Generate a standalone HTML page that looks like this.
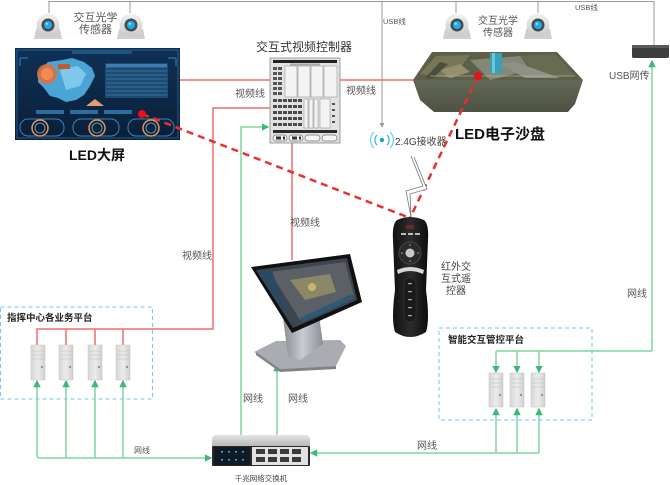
<!DOCTYPE html>
<html><head><meta charset="utf-8"><style>
html,body{margin:0;padding:0;background:#fff;}
svg{display:block;}
text{font-family:"Liberation Sans","Noto Sans CJK SC",sans-serif;}
</style></head><body>
<svg width="670" height="485" viewBox="0 0 670 485" xmlns="http://www.w3.org/2000/svg">
<defs>
<marker id="ag" viewBox="0 0 6 6" refX="5" refY="3" markerWidth="5" markerHeight="5" orient="auto"><path d="M0,0 L6,3 L0,6 z" fill="#3cb878"/></marker>
<marker id="ay" viewBox="0 0 6 6" refX="5" refY="3" markerWidth="5" markerHeight="5" orient="auto"><path d="M0,0 L6,3 L0,6 z" fill="#999"/></marker>
<linearGradient id="srv" x1="0" y1="0" x2="1" y2="0"><stop offset="0" stop-color="#d6d6d6"/><stop offset="0.5" stop-color="#ececec"/><stop offset="1" stop-color="#cfcfcf"/></linearGradient>
<linearGradient id="side" x1="0" y1="0" x2="0" y2="1"><stop offset="0" stop-color="#646857"/><stop offset="1" stop-color="#4e5244"/></linearGradient>
<linearGradient id="led" x1="0" y1="0" x2="0" y2="1"><stop offset="0" stop-color="#0f3156"/><stop offset="1" stop-color="#0a1f38"/></linearGradient>
<linearGradient id="dome" x1="0" y1="0" x2="0" y2="1"><stop offset="0" stop-color="#f2f2f2"/><stop offset="1" stop-color="#c9c9c9"/></linearGradient>
<linearGradient id="remote" x1="0" y1="0" x2="1" y2="0"><stop offset="0" stop-color="#111"/><stop offset="0.5" stop-color="#2c2c2c"/><stop offset="1" stop-color="#0c0c0c"/></linearGradient>
<linearGradient id="sw" x1="0" y1="0" x2="0" y2="1"><stop offset="0" stop-color="#e4e4e4"/><stop offset="1" stop-color="#b8b8b8"/></linearGradient>
<linearGradient id="stand" x1="0" y1="0" x2="1" y2="0"><stop offset="0" stop-color="#8a8d92"/><stop offset="0.5" stop-color="#c9ccd0"/><stop offset="1" stop-color="#8a8d92"/></linearGradient>
</defs>

<!-- gray USB lines -->
<g stroke="#9a9a9a" stroke-width="1" fill="none">
<path d="M49,13 V1.5 H654 V45"/>
<path d="M130,13 V1.5"/>
<path d="M456,13 V1.5"/>
<path d="M538,13 V1.5"/>
<path d="M382,1.5 V127" marker-end="url(#ay)"/>
</g>

<!-- red solid lines -->
<g stroke="#ec6f6f" stroke-width="1.5" fill="none">
<path d="M180,80 H270"/>
<path d="M340,80 H414"/>
<path d="M270,108 H213 V329 H37 V345"/>
<path d="M66,329 V345 M95,329 V345 M123,329 V345"/>
<path d="M292,143 V260"/>
</g>

<!-- green lines -->
<g stroke="#7fd6a4" stroke-width="1.5" fill="none">
<path d="M241,435 V127 H268" marker-end="url(#ag)"/>
<path d="M277,435 V365" marker-end="url(#ag)"/>
<path d="M40,458 H211" marker-end="url(#ag)"/>
<path d="M37,455 V381" marker-end="url(#ag)"/>
<path d="M37,455 Q37,458 40,458"/>
<path d="M66,458 V381" marker-end="url(#ag)"/>
<path d="M95,458 V381" marker-end="url(#ag)"/>
<path d="M123,458 V381" marker-end="url(#ag)"/>
<path d="M496,453 H311" marker-end="url(#ag)"/>
<path d="M496,453 H539"/>
<path d="M496,453 V409" marker-end="url(#ag)"/>
<path d="M517,453 V409" marker-end="url(#ag)"/>
<path d="M539,453 V409" marker-end="url(#ag)"/>
<path d="M652,351 V61" marker-end="url(#ag)"/>
<path d="M496,351 H652"/>
<path d="M496,351 V372" marker-end="url(#ag)"/>
<path d="M517,351 V372" marker-end="url(#ag)"/>
<path d="M539,351 V372" marker-end="url(#ag)"/>
</g>

<!-- dashed platform boxes -->
<rect x="0.5" y="307" width="152" height="92" fill="none" stroke="#6fcbea" stroke-width="1" stroke-dasharray="4,3"/>
<rect x="439" y="328" width="153" height="92" fill="none" stroke="#6fcbea" stroke-width="1" stroke-dasharray="4,3"/>
<text x="7" y="321" font-size="9.5" font-weight="bold" fill="#222">指挥中心各业务平台</text>
<text x="448" y="343" font-size="9.5" font-weight="bold" fill="#222">智能交互管控平台</text>

<!-- servers -->
<g id="servers">
<g transform="translate(31,345)"><rect width="14" height="35" fill="url(#srv)" stroke="#c4c4c4" stroke-width="0.5"/><path d="M1,6 H13 M1,10 H13 M1,14 H13" stroke="#bdbdbd" stroke-width="0.6"/><circle cx="11" cy="22" r="1" fill="#3a8fc0"/></g>
<g transform="translate(59,345)"><rect width="14" height="35" fill="url(#srv)" stroke="#c4c4c4" stroke-width="0.5"/><path d="M1,6 H13 M1,10 H13 M1,14 H13" stroke="#bdbdbd" stroke-width="0.6"/><circle cx="11" cy="22" r="1" fill="#3a8fc0"/></g>
<g transform="translate(88,345)"><rect width="14" height="35" fill="url(#srv)" stroke="#c4c4c4" stroke-width="0.5"/><path d="M1,6 H13 M1,10 H13 M1,14 H13" stroke="#bdbdbd" stroke-width="0.6"/><circle cx="11" cy="22" r="1" fill="#3a8fc0"/></g>
<g transform="translate(116,345)"><rect width="14" height="35" fill="url(#srv)" stroke="#c4c4c4" stroke-width="0.5"/><path d="M1,6 H13 M1,10 H13 M1,14 H13" stroke="#bdbdbd" stroke-width="0.6"/><circle cx="11" cy="22" r="1" fill="#3a8fc0"/></g>
<g transform="translate(489,373)"><rect width="14" height="34" fill="url(#srv)" stroke="#c4c4c4" stroke-width="0.5"/><path d="M1,6 H13 M1,10 H13 M1,14 H13" stroke="#bdbdbd" stroke-width="0.6"/><circle cx="11" cy="22" r="1" fill="#3a8fc0"/></g>
<g transform="translate(510,373)"><rect width="14" height="34" fill="url(#srv)" stroke="#c4c4c4" stroke-width="0.5"/><path d="M1,6 H13 M1,10 H13 M1,14 H13" stroke="#bdbdbd" stroke-width="0.6"/><circle cx="11" cy="22" r="1" fill="#3a8fc0"/></g>
<g transform="translate(531,373)"><rect width="14" height="34" fill="url(#srv)" stroke="#c4c4c4" stroke-width="0.5"/><path d="M1,6 H13 M1,10 H13 M1,14 H13" stroke="#bdbdbd" stroke-width="0.6"/><circle cx="11" cy="22" r="1" fill="#3a8fc0"/></g>
</g>

<!-- sensors -->
<g>
<g transform="translate(48,0)"><path d="M-14,39 L-12,29 H12 L14,39 Z" fill="#cfcfcf"/><circle cx="0" cy="25" r="11.5" fill="url(#dome)"/><circle cx="0" cy="25" r="6.5" fill="#4a4a4a"/><circle cx="0" cy="25" r="4" fill="#18aef0"/><circle cx="-1.2" cy="23.8" r="1.2" fill="#9fe4ff"/></g>
<g transform="translate(131,0)"><path d="M-14,39 L-12,29 H12 L14,39 Z" fill="#cfcfcf"/><circle cx="0" cy="25" r="11.5" fill="url(#dome)"/><circle cx="0" cy="25" r="6.5" fill="#4a4a4a"/><circle cx="0" cy="25" r="4" fill="#18aef0"/><circle cx="-1.2" cy="23.8" r="1.2" fill="#9fe4ff"/></g>
<g transform="translate(457,0)"><path d="M-14,39 L-12,29 H12 L14,39 Z" fill="#cfcfcf"/><circle cx="0" cy="25" r="11.5" fill="url(#dome)"/><circle cx="0" cy="25" r="6.5" fill="#4a4a4a"/><circle cx="0" cy="25" r="4" fill="#18aef0"/><circle cx="-1.2" cy="23.8" r="1.2" fill="#9fe4ff"/></g>
<g transform="translate(538,0)"><path d="M-14,39 L-12,29 H12 L14,39 Z" fill="#cfcfcf"/><circle cx="0" cy="25" r="11.5" fill="url(#dome)"/><circle cx="0" cy="25" r="6.5" fill="#4a4a4a"/><circle cx="0" cy="25" r="4" fill="#18aef0"/><circle cx="-1.2" cy="23.8" r="1.2" fill="#9fe4ff"/></g>
</g>
<text x="95.5" y="21" font-size="11" fill="#555" text-anchor="middle">交互光学</text>
<text x="95.5" y="33" font-size="11" fill="#555" text-anchor="middle">传感器</text>
<text x="498" y="24" font-size="10" fill="#555" text-anchor="middle">交互光学</text>
<text x="498" y="36" font-size="10" fill="#555" text-anchor="middle">传感器</text>
<text x="383" y="24" font-size="7.5" fill="#555">USB线</text>
<text x="575" y="10" font-size="7.5" fill="#555">USB线</text>

<!-- LED screen -->
<g>
<rect x="15" y="48" width="165" height="92" fill="url(#led)"/>
<rect x="17" y="50" width="161" height="88" fill="none" stroke="#2a6a9a" stroke-width="0.8"/>
<rect x="72" y="50" width="60" height="4" fill="#1e5480"/>
<path d="M38,72 L48,62 L62,60 L72,58 L84,62 L92,68 L95,76 L90,86 L84,95 L76,100 L66,102 L58,98 L50,96 L44,88 L38,82 Z" fill="#4aa4d6"/>
<path d="M60,70 L78,66 L86,74 L80,86 L66,90 Z" fill="#7ec8ec"/>
<circle cx="47" cy="74" r="10" fill="#e0703a" opacity="0.85"/>
<circle cx="47" cy="74" r="6" fill="#f38b50"/>
<rect x="58" y="64" width="12" height="5" fill="#c25a30"/>
<path d="M86,106 L95,99 L104,106 Z" fill="#e89a70"/>
<rect x="105" y="63" width="63" height="35" fill="#1d4c72"/>
<g stroke="#5a90b8" stroke-width="0.5"><path d="M106,67 H167 M106,71 H167 M106,75 H167 M106,79 H167 M106,83 H167 M106,87 H167 M106,91 H167 M106,95 H167"/></g>
<rect x="106" y="64" width="61" height="3" fill="#3c7cb0"/>
<g fill="#2b6ea0"><rect x="36" y="110" width="28" height="4"/><rect x="70" y="110" width="28" height="4"/><rect x="104" y="110" width="28" height="4"/></g>
<g fill="none" stroke="#3e82b8" stroke-width="1">
<rect x="20" y="119" width="44" height="17" rx="8"/><rect x="73" y="119" width="46" height="17" rx="8"/><rect x="128" y="119" width="46" height="17" rx="8"/>
</g>
<g fill="#0c2238" stroke="#e8925c" stroke-width="1.5">
<circle cx="40" cy="128" r="8"/><circle cx="97" cy="128" r="8"/><circle cx="151" cy="128" r="8"/>
</g>
<g fill="none" stroke="#6ab8e8" stroke-width="0.8">
<circle cx="40" cy="128" r="5"/><circle cx="97" cy="128" r="5"/><circle cx="151" cy="128" r="5"/>
</g>
<path d="M20,58 H28 M168,58 H176 M20,58 V66 M176,58 V66" stroke="#3e82b8" stroke-width="1"/>
</g>
<text x="97" y="160" font-size="14" font-weight="bold" fill="#111" text-anchor="middle">LED大屏</text>

<!-- video controller -->
<text x="304" y="51" font-size="12" fill="#333" text-anchor="middle">交互式视频控制器</text>
<g>
<rect x="270" y="58" width="70" height="85" fill="#e2e2e2" stroke="#8a8a8a" stroke-width="0.8"/>
<rect x="273" y="60" width="64" height="3" fill="#222"/>
<rect x="290" y="63.5" width="30" height="2" fill="#aaa"/>
<g fill="#555"><rect x="273" y="67" width="4" height="3"/><rect x="278" y="67" width="4" height="3"/><rect x="273" y="72" width="4" height="3"/><rect x="278" y="72" width="4" height="3"/><rect x="273" y="77" width="4" height="3"/><rect x="278" y="77" width="4" height="3"/><rect x="273" y="82" width="4" height="3"/><rect x="278" y="82" width="4" height="3"/><rect x="273" y="87" width="4" height="3"/><rect x="278" y="87" width="4" height="3"/><rect x="273" y="92" width="4" height="3"/><rect x="278" y="92" width="4" height="3"/></g>
<g fill="#f4f4f4" stroke="#999" stroke-width="0.6"><rect x="285" y="66" width="12" height="31"/><rect x="298" y="66" width="12" height="31"/><rect x="311" y="66" width="12" height="31"/><rect x="324" y="66" width="13" height="31"/></g>
<g fill="#4a4a4a">
<rect x="273" y="99" width="4" height="3"/><rect x="278" y="99" width="4" height="3"/><rect x="283" y="99" width="4" height="3"/><rect x="288" y="99" width="4" height="3"/><rect x="293" y="99" width="4" height="3"/><rect x="298" y="99" width="4" height="3"/>
<rect x="273" y="105" width="4" height="3"/><rect x="278" y="105" width="4" height="3"/><rect x="283" y="105" width="4" height="3"/><rect x="288" y="105" width="4" height="3"/><rect x="293" y="105" width="4" height="3"/><rect x="298" y="105" width="4" height="3"/>
<rect x="273" y="111" width="4" height="3"/><rect x="278" y="111" width="4" height="3"/><rect x="283" y="111" width="4" height="3"/><rect x="288" y="111" width="4" height="3"/><rect x="293" y="111" width="4" height="3"/><rect x="298" y="111" width="4" height="3"/>
<rect x="273" y="117" width="4" height="3"/><rect x="278" y="117" width="4" height="3"/><rect x="283" y="117" width="4" height="3"/><rect x="288" y="117" width="4" height="3"/><rect x="293" y="117" width="4" height="3"/><rect x="298" y="117" width="4" height="3"/>
<rect x="273" y="123" width="4" height="3"/><rect x="278" y="123" width="4" height="3"/><rect x="283" y="123" width="4" height="3"/><rect x="288" y="123" width="4" height="3"/><rect x="293" y="123" width="4" height="3"/><rect x="298" y="123" width="4" height="3"/>
</g>
<g fill="#f4f4f4" stroke="#999" stroke-width="0.6"><rect x="304" y="99" width="4" height="29"/><rect x="309" y="99" width="4" height="29"/><rect x="314" y="99" width="4" height="29"/><rect x="320" y="99" width="10" height="29"/></g>
<g fill="#555"><rect x="332" y="103" width="3" height="2"/><rect x="332" y="109" width="3" height="2"/><rect x="332" y="115" width="3" height="2"/><rect x="332" y="121" width="3" height="2"/></g>
<rect x="273" y="130" width="64" height="3" fill="#2a2a2a"/>
<g fill="#f6f6f6" stroke="#777" stroke-width="0.7"><rect x="273" y="135" width="14" height="6" rx="3"/><rect x="289" y="135" width="14" height="6" rx="3"/><rect x="305" y="135" width="15" height="6" rx="3"/><rect x="322" y="135" width="15" height="6" rx="3"/></g>
<g fill="#333"><rect x="276" y="136.5" width="5" height="3"/><rect x="292" y="136.5" width="5" height="3"/><rect x="283" y="136.5" width="2" height="3"/><rect x="299" y="136.5" width="2" height="3"/></g>
</g>
<text x="235" y="97" font-size="10" fill="#555">视频线</text>
<text x="346" y="94" font-size="10" fill="#555">视频线</text>
<text x="182" y="259" font-size="10" fill="#555">视频线</text>
<text x="290" y="226" font-size="10" fill="#555">视频线</text>

<!-- LED sand table -->
<g>
<path d="M413,80 L583,80 L575,104 L568,112 L434,112 L420,100 Z" fill="url(#side)"/>
<path d="M413,80 L432,52 L557,52 L583,80 Z" fill="#5c6048"/>
<g opacity="0.85">
<path d="M420,74 L436,56 L470,55 L452,78 Z" fill="#7c7a5a"/>
<path d="M470,60 L520,56 L530,70 L490,80 Z" fill="#8c8f80"/>
<path d="M520,56 L555,54 L575,76 L540,78 Z" fill="#6c6e52"/>
<path d="M440,70 L460,64 L470,72 L450,78 Z" fill="#a09878"/>
<path d="M500,64 L515,62 L560,78 L525,78 Z" fill="#9a9a90"/>
<path d="M425,78 L440,62 L448,64 L432,79 Z" fill="#4a4c3a"/>
</g>
<path d="M430,76 L575,76" stroke="#b8bcb0" stroke-width="1" opacity="0.6"/>
<rect x="490" y="53" width="12" height="20" fill="#3aa0b8"/>
<rect x="492" y="53" width="3" height="20" fill="#6cc8d8"/>
</g>
<text x="455" y="139" font-size="15" font-weight="bold" fill="#111">LED电子沙盘</text>

<!-- USB box -->
<rect x="632" y="45" width="37" height="13" rx="1.5" fill="#3e3e3e"/>
<rect x="632" y="45" width="37" height="3" fill="#5a5a5a"/>
<text x="609" y="79" font-size="10" fill="#555">USB网传</text>

<!-- 2.4G receiver -->
<g fill="none" stroke="#2ab0e8" stroke-width="1.2">
<circle cx="382" cy="140" r="2.2" fill="#1a9ee0" stroke="none"/>
<path d="M377,135 A7,7 0 0 0 377,145"/>
<path d="M374,132 A11,11 0 0 0 374,148" opacity="0.7"/>
<path d="M387,135 A7,7 0 0 1 387,145"/>
<path d="M390,132 A11,11 0 0 1 390,148" opacity="0.7"/>
</g>
<text x="395" y="145" font-size="10" fill="#444">2.4G接收器</text>

<!-- red dashed IR beams -->
<g stroke="#e8302f" stroke-width="2.5" fill="none" stroke-dasharray="7,5">
<path d="M142,114 L410,218"/>
<path d="M478,76 L410,218"/>
</g>
<circle cx="142" cy="114" r="4" fill="#e8101a"/>
<circle cx="478" cy="76" r="4" fill="#e8101a"/>

<!-- lightning -->
<path d="M411,156 L423,186 L406,191 L411,217 L410,194 L427,189 L414,157" fill="#fff" stroke="#777" stroke-width="0.8"/>

<!-- remote -->
<g>
<path d="M397,220 Q410,214 424,220 Q429,224 428,240 L426,290 Q430,320 426,332 Q410,342 395,332 Q391,320 395,290 L393,240 Q392,224 397,220 Z" fill="url(#remote)"/>
<rect x="406" y="225" width="8" height="4" rx="1" fill="#6a2a2a"/>
<g fill="#bbb"><rect x="401" y="233" width="5" height="2"/><rect x="408" y="233" width="5" height="2"/><rect x="415" y="233" width="5" height="2"/></g>
<circle cx="410" cy="253" r="11" fill="#2a2a2a" stroke="#444" stroke-width="1"/>
<circle cx="410" cy="253" r="4.5" fill="#c8c8c8"/>
<g fill="#aaa"><circle cx="410" cy="245" r="0.8"/><circle cx="410" cy="261" r="0.8"/><circle cx="402" cy="253" r="0.8"/><circle cx="418" cy="253" r="0.8"/></g>
<path d="M397,270 Q410,264 424,270 L423,274 Q410,268 398,274 Z" fill="#d8d8d8"/>
<rect x="404" y="278" width="12" height="44" rx="6" fill="#1a1a1a" stroke="#333" stroke-width="0.6"/>
<g fill="#aaa"><rect x="408" y="283" width="4" height="1.2"/><rect x="408" y="291" width="4" height="1.2"/><rect x="408" y="299" width="4" height="1.2"/><rect x="408" y="307" width="4" height="1.2"/><rect x="408" y="315" width="4" height="1.2"/></g>
</g>
<text x="456" y="270" font-size="10" fill="#444" text-anchor="middle">红外交</text>
<text x="456" y="282" font-size="10" fill="#444" text-anchor="middle">互式遥</text>
<text x="456" y="294" font-size="10" fill="#444" text-anchor="middle">控器</text>

<!-- touch kiosk -->
<g>
<path d="M254,352 L276,341 L340,340 L346,346 L336,366 L280,369 Z" fill="#a9acb0"/>
<path d="M256,352 L280,369 L336,366 L336,369 L280,372 L256,355 Z" fill="#7f8286"/>
<path d="M283,318 L318,308 L323,344 L300,360 L288,356 Z" fill="url(#stand)"/>
<path d="M251,267 L350,254 L362,302 L292,333 Z" fill="#111"/>
<path d="M256,270 L347,258 L357,300 L293,328 Z" fill="#3d464e"/>
<path d="M270,272 L345,262 L354,296 L300,320 Z" fill="#5a6066"/>
<path d="M290,280 L330,274 L336,292 L305,300 Z" fill="#8a8866"/>
<circle cx="312" cy="287" r="4" fill="#d8c070" opacity="0.8"/>
<path d="M258,272 L272,271 L290,322 L294,326 Z" fill="#2a4a64"/>
<path d="M300,318 L352,294 L355,298 L303,322 Z" fill="#2e5a78"/>
</g>
<text x="243" y="402" font-size="10" fill="#555">网线</text>
<text x="288" y="402" font-size="10" fill="#555">网线</text>

<!-- switch -->
<g>
<path d="M216,435 H306 Q310,435 310,440 V446 H212 V440 Q212,435 216,435 Z" fill="url(#sw)"/>
<rect x="212" y="446" width="98" height="20" rx="1" fill="#2a2a2a"/>
<rect x="214" y="447" width="36" height="18" fill="#0f1a26"/>
<g fill="#3ab8e0"><rect x="221" y="451" width="2" height="1.5"/><rect x="228" y="451" width="2" height="1.5"/><rect x="235" y="451" width="2" height="1.5"/><rect x="242" y="451" width="2" height="1.5"/><rect x="221" y="459" width="2" height="1.5"/><rect x="228" y="459" width="2" height="1.5"/><rect x="235" y="459" width="2" height="1.5"/><rect x="242" y="459" width="2" height="1.5"/></g>
<rect x="252" y="447" width="56" height="18" fill="#e2e2e2"/>
<g fill="#3a3a3a"><rect x="256" y="449" width="9" height="5"/><rect x="268" y="449" width="9" height="5"/><rect x="280" y="449" width="9" height="5"/><rect x="292" y="449" width="9" height="5"/><rect x="256" y="457" width="9" height="5"/><rect x="268" y="457" width="9" height="5"/><rect x="280" y="457" width="9" height="5"/><rect x="292" y="457" width="9" height="5"/></g>
</g>
<text x="261" y="481" font-size="7.5" fill="#444" text-anchor="middle">千兆网络交换机</text>

<text x="134" y="453" font-size="8" fill="#555">网线</text>
<text x="417" y="449" font-size="10" fill="#555">网线</text>
<text x="627" y="297" font-size="10" fill="#555">网线</text>
</svg>
</body></html>
